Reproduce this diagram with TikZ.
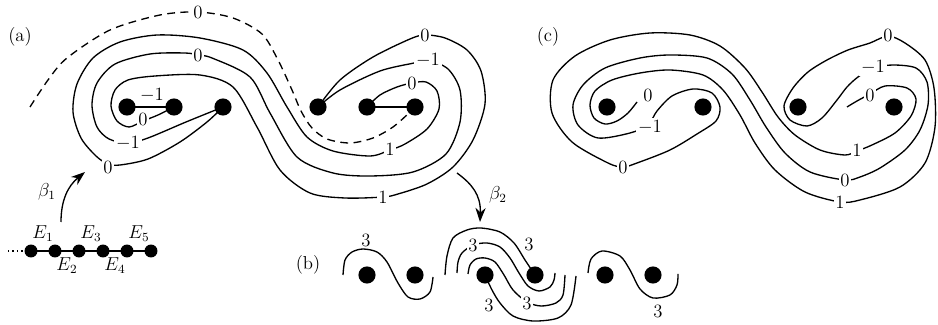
\documentclass[tikz,border=0pt]{standalone}
\usetikzlibrary{arrows.meta}
\begin{document}
\begin{tikzpicture}[x=0.64pt,y=-0.64pt,
  curve/.style={line width=0.85pt},
  dashc/.style={line width=0.85pt,dash pattern=on 5pt off 3.5pt},
  lab/.style={fill=white,inner sep=1.2pt,font=\fontsize{12}{14}\selectfont},
  txt/.style={inner sep=1pt,font=\fontsize{12}{14}\selectfont},
  dot/.style={circle,fill=black,inner sep=0pt,minimum size=11pt},
  sdot/.style={circle,fill=black,inner sep=0pt,minimum size=8.3pt},
  barrow/.style={line width=0.85pt,-{Stealth[length=9pt,width=6.5pt]}}]
\useasboundingbox (0,0) rectangle (938,325);

% ---------------- panel (a) ----------------
\node[txt] (la) at (20,37) {(a)};
\coordinate (a1) at (127,107);
\coordinate (a2) at (174,107);
\coordinate (a3) at (223,107);
\coordinate (a4) at (318,107);
\coordinate (a5) at (367,107);
\coordinate (a6) at (415,107);

% dashed curve
\draw[dashc] plot[smooth] coordinates {(30,107) (48,80) (67,58) (110,30) (160,15) (198,12) (233,18) (262,34) (278,60) (292,90) (301,111) (312,128) (327,139) (350,143) (373,138) (393,127) (409,113)};
% curve P
\draw[curve] plot[smooth] coordinates {(223,107) (207,122) (180,142) (148,159) (120,165) (108,164) (96,156) (81,138) (73,112) (77,84) (93,58) (120,42) (157,35) (200,38) (243,50) (267,73) (287,107) (307,137) (333,151) (370,156) (390,150) (405,144) (427,129) (439,109) (437,91) (426,82) (412,83) (397,87) (380,95) (367,107)};
% curve Q
\draw[curve] plot[smooth] coordinates {(223,107) (186,122) (148,138) (128,143) (109,139) (97,127) (92,105) (97,83) (115,64) (150,54) (185,53) (198,55) (212,58) (250,77) (270,113) (297,157) (333,173) (370,176) (413,172) (446,154) (460,122) (460,90) (448,69) (428,60) (414,63) (380,71) (340,90) (318,107)};
% curve R
\draw[curve] plot[smooth] coordinates {(174,107) (158,115) (143,121) (129,127) (117,121) (111,106) (115,90) (128,80) (155,76) (200,75) (233,87) (257,127) (280,170) (310,193) (345,198) (383,197) (398,194) (427,184) (453,167) (473,140) (485,104) (481,71) (467,50) (445,38) (425,35) (410,39) (373,57) (340,80) (318,107)};
\draw[curve] (a1) -- (a2);
\draw[curve] (a5) -- (a6);
\foreach \n in {a1,a2,a3,a4,a5,a6} \node[dot] (n\n) at (\n) {};
\node[lab] (l1) at (198,12) {$0$};
\node[lab] (l2) at (198,55) {$0$};
\node[txt] (l3) at (152,95) {$-1$};
\node[lab] (l4) at (143,119) {$0$};
\node[lab] (l5) at (128,143) {$-1$};
\node[lab] (l6) at (108,167) {$0$};
\node[lab] (l7) at (425,35) {$0$};
\node[lab] (l8) at (428,60) {$-1$};
\node[lab] (l9) at (412,83) {$0$};
\node[lab] (l10) at (390,149) {$1$};
\node[lab] (l11) at (383,197) {$1$};

% beta arrows
\coordinate (b1s) at (61,222);
\coordinate (b1e) at (85,172);
\draw[barrow] (b1s) .. controls (61,200) and (68,186) .. (b1e);
\node[txt] (lb1) at (47,192) {$\beta_1$};
\coordinate (b2s) at (457,173);
\coordinate (b2e) at (480,222);
\draw[barrow] (b2s) .. controls (472,184) and (481,195) .. (b2e);
\node[txt] (lb2) at (498,195) {$\beta_2$};

% E chain
\coordinate (e0) at (8,251);
\foreach \i/\x in {1/31,2/55,3/79,4/103,5/127,6/151} \coordinate (e\i) at (\x,251);
\draw[line width=0.85pt,dotted] (e0) -- (e1);
\draw[curve] (e1) -- (e2) -- (e3) -- (e4) -- (e5) -- (e6);
\foreach \i in {1,...,6} \node[sdot] (ne\i) at (e\i) {};
\node[txt] (E1) at (43,234) {$E_1$};
\node[txt] (E2) at (67,266) {$E_2$};
\node[txt] (E3) at (91,234) {$E_3$};
\node[txt] (E4) at (115,266) {$E_4$};
\node[txt] (E5) at (139,234) {$E_5$};

% ---------------- panel (b) ----------------
\node[txt] (lbb) at (308,265) {(b)};
\draw[curve] plot[smooth] coordinates {(343,275) (345,260) (352,252) (363,249) (377,252) (387,262) (398,283) (408,297) (420,299) (430,292) (433,277)};
\draw[curve] plot[smooth] coordinates {(445,275) (447,256) (453,238) (467,230) (481,228) (500,232) (514,243) (525,260) (533,272)};
\draw[curve] plot[smooth] coordinates {(457,273) (458,262) (462,253) (473,245) (487,243) (500,247) (510,258) (519,273) (528,286) (539,291) (550,287) (554,280) (555,273)};
\draw[curve] plot[smooth] coordinates {(468,274) (470,265) (476,259) (485,258) (495,262) (504,275) (513,290) (527,302) (541,306) (556,303) (563,295) (565,275)};
\draw[curve] plot[smooth] coordinates {(485,275) (492,290) (500,303) (513,316) (533,321) (558,318) (571,305) (576,276)};
\draw[curve] plot[smooth] coordinates {(588,273) (591,259) (602,251) (620,256) (630,270) (640,289) (653,298) (670,295) (677,285) (678,274)};
\foreach \n/\x in {b1/367,b2/415,b3/485,b4/535,b5/605,b6/653} \node[dot] (\n) at (\x,275) {};
\node[txt] (m1) at (366,240) {$3$};
\node[lab] (m2) at (473,245) {$3$};
\node[txt] (m3) at (529,244) {$3$};
\node[lab] (m4) at (527,303) {$3$};
\node[txt] (m5) at (489,305) {$3$};
\node[txt] (m6) at (658,311) {$3$};

% ---------------- panel (c) ----------------
\node[txt] (lc) at (548,37) {(c)};
\draw[curve] plot[smooth] coordinates {(637,102) (628,113) (617,121) (605,124) (594,118) (590,105) (595,91) (612,80) (640,73) (670,70) (703,75) (723,90) (740,115) (755,143) (775,170) (805,192) (840,202) (860,200) (900,187) (925,163) (935,127) (934,88) (925,60) (905,43) (888,36) (870,43) (848,50) (827,60) (808,72) (793,88) (784,106) (790,120) (807,126) (822,118) (837,100) (847,87) (858,77) (873,68) (893,65) (916,68) (927,82) (928,105) (920,130) (905,150) (880,168) (860,177) (845,180) (810,172) (785,153) (766,127) (750,100) (732,74) (707,58) (670,55) (640,58) (605,68) (583,85) (573,105) (578,125) (598,138) (630,133) (648,125) (657,111) (672,96) (693,89) (712,93) (720,107) (716,121) (697,134) (670,150) (637,163) (623,167) (608,163) (572,142) (552,113) (553,80) (575,56) (610,40) (650,33) (690,35) (720,46) (745,68) (762,92) (778,117) (795,135) (820,150) (845,155) (857,151) (872,145) (895,133) (911,116) (916,99) (907,88) (885,86) (870,94) (857,101) (847,107)};
\foreach \n/\x in {c1/607,c2/703,c3/798,c4/894} \node[dot] (\n) at (\x,107) {};
\node[lab] (k1) at (648,95) {$0$};
\node[lab] (k2) at (650,127) {$-1$};
\node[lab] (k3) at (623,167) {$0$};
\node[lab] (k4) at (888,35) {$0$};
\node[lab] (k5) at (873,67) {$-1$};
\node[lab] (k6) at (870,95) {$0$};
\node[lab] (k7) at (857,150) {$1$};
\node[lab] (k8) at (845,180) {$0$};
\node[lab] (k9) at (840,202) {$1$};
\end{tikzpicture}
\end{document}
